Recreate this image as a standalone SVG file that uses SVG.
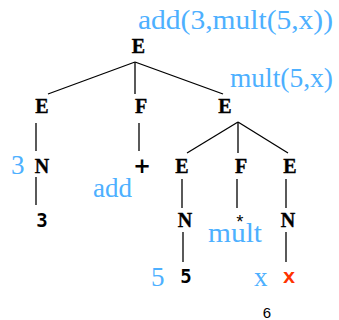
<svg xmlns="http://www.w3.org/2000/svg" width="339" height="320" viewBox="0 0 339 320">
<style>
.nt{font-family:"Liberation Serif",serif;font-weight:bold;font-size:20px;fill:#000;stroke:#000;stroke-width:0.35;text-anchor:middle}
.sem{font-family:"Liberation Serif",serif;font-size:27px;fill:#4db0ff}
.tm{font-family:"DejaVu Sans Mono",monospace;font-weight:bold;font-size:19px;fill:#000;text-anchor:middle}
.ln{stroke:#000;stroke-width:1.3;fill:none}
</style>
<rect width="339" height="320" fill="#fff"/>
<g id="connectors">
<line class="ln" x1="135" y1="62" x2="48" y2="94"/>
<line class="ln" x1="135" y1="62" x2="135" y2="94"/>
<line class="ln" x1="135" y1="62" x2="223" y2="94"/>
<line class="ln" x1="36" y1="123" x2="36" y2="151"/>
<line class="ln" x1="139" y1="123" x2="139" y2="151"/>
<line class="ln" x1="238" y1="122" x2="187" y2="153"/>
<line class="ln" x1="238" y1="122" x2="238" y2="153"/>
<line class="ln" x1="238" y1="122" x2="288" y2="153"/>
<line class="ln" x1="36" y1="177" x2="36" y2="205"/>
<line class="ln" x1="182" y1="179" x2="182" y2="208"/>
<line class="ln" x1="237" y1="179" x2="237" y2="208"/>
<line class="ln" x1="286" y1="179" x2="286" y2="208"/>
<line class="ln" x1="183" y1="232" x2="183" y2="262"/>
<line class="ln" x1="286" y1="232" x2="286" y2="262"/>
</g>
<g id="root"><text class="nt" x="138.5" y="53">E</text><text class="sem" x="138" y="29" textLength="195" lengthAdjust="spacingAndGlyphs">add(3,mult(5,x))</text></g>
<g id="e1"><text class="nt" x="42" y="113">E</text></g>
<g id="f1"><text class="nt" x="141" y="113">F</text></g>
<g id="e2"><text class="nt" x="225" y="113">E</text><text class="sem" x="230" y="87" textLength="103" lengthAdjust="spacingAndGlyphs">mult(5,x)</text></g>
<g id="n1"><text class="nt" x="42" y="173">N</text><text class="sem" x="11" y="174">3</text></g>
<g id="plus"><text x="142" y="173" font-family="DejaVu Sans,sans-serif" font-weight="bold" font-size="21" text-anchor="middle">+</text><text class="sem" x="93" y="197">add</text></g>
<g id="e3"><text class="nt" x="182" y="173">E</text></g>
<g id="f2"><text class="nt" x="241" y="173">F</text></g>
<g id="e4"><text class="nt" x="290" y="173">E</text></g>
<g id="t3"><text class="tm" x="42" y="227">3</text></g>
<g id="n2"><text class="nt" x="185" y="227">N</text></g>
<g id="star"><text x="240" y="228" font-family="Liberation Mono,monospace" font-size="18" text-anchor="middle">*</text><text class="sem" x="208" y="242" textLength="54" lengthAdjust="spacingAndGlyphs">mult</text></g>
<g id="n3"><text class="nt" x="288" y="227">N</text></g>
<g id="t5"><text class="tm" x="186" y="283">5</text><text class="sem" x="151" y="286">5</text></g>
<g id="tx"><text x="289" y="283" font-family="Liberation Mono,monospace" font-weight="bold" font-size="21" text-anchor="middle" fill="#ff3300">x</text><text class="sem" x="254" y="286">x</text></g>
<text x="267" y="318" font-family="Liberation Sans,sans-serif" font-size="15" text-anchor="middle">6</text>
</svg>
